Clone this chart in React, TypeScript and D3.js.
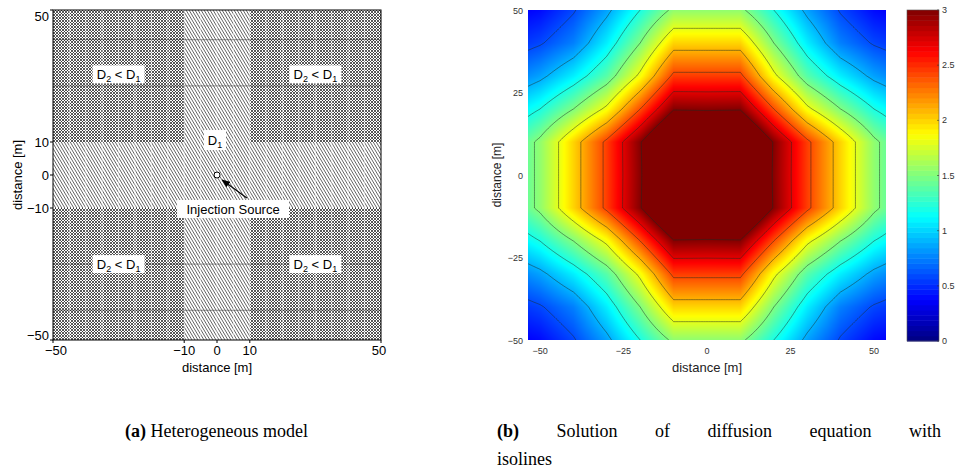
import React, { useMemo, useRef, useLayoutEffect, useState } from "react";
import * as d3 from "d3";

const W = 956;
const H = 474;
const SANS = "'Liberation Sans', Arial, Helvetica, sans-serif";
const SERIF = "'Liberation Serif', 'Times New Roman', serif";

// ---------- (a) heterogeneous model ----------
const modelTicks = [-50, -10, 0, 10, 50];
const armHalfWidth = 10;
const meshColumns = d3.range(-45, 50, 5);
const seamRows = [41, 27, -27, -41];
const regionLabels = [
  { x: -30, y: 30.5 },
  { x: 30, y: 30.5 },
  { x: -30, y: -27 },
  { x: 30, y: -27 },
];
const sourcePoint = { x: 0, y: 0 };
const d1Label = { x: -0.6, y: 10.6 };
const sourceLabel = { x: 4.9, y: -10.3 };
const arrowTail = { x: 9.1, y: -7.0 };
const arrowHead = { x: 1.6, y: -1.5 };

// ---------- (b) diffusion solution ----------
// Nodal values on one quadrant (|x|, |y| in metres); the field is mirrored.
const gridCoords = [0, 10, 20, 30, 40, 50, 60];
const solutionQuadrant = [
  [4.0, 3.6, 2.97, 2.45, 2.0, 1.55, 1.25],
  [3.6, 3.6, 2.98, 2.45, 2.0, 1.55, 1.25],
  [2.97, 2.98, 2.4, 1.85, 1.5, 1.2, 1.0],
  [2.45, 2.45, 1.85, 1.38, 1.08, 0.85, 0.7],
  [2.0, 2.0, 1.5, 1.08, 0.75, 0.58, 0.48],
  [1.55, 1.55, 1.2, 0.85, 0.58, 0.4, 0.33],
  [1.25, 1.25, 1.0, 0.7, 0.48, 0.33, 0.25],
];
const isoLevels = [0.3, 0.6, 0.9, 1.2, 1.5, 1.8, 2.1, 2.4, 2.7, 3.0];
const solXDomain = [-53.6, 53.6];
const solYDomain = [-50, 50];
const solTicks = [-50, -25, 0, 25, 50];
const colorDomain = [0, 3];
const colorbarTicks = [0, 0.5, 1, 1.5, 2, 2.5, 3];

// scales
const xL = d3.scaleLinear().domain([-50, 50]).range([53, 381]);
const yL = d3.scaleLinear().domain([-50, 50]).range([340, 10]);
const xR = d3.scaleLinear().domain(solXDomain).range([528, 886]);
const yR = d3.scaleLinear().domain(solYDomain).range([340, 10]);
const cbY = d3.scaleLinear().domain(colorDomain).range([341, 10]);
const cbX = [907, 939];

const fmt = (v: number) => (v < 0 ? "\u2212" + Math.abs(v) : String(v));

function jet(t: number): [number, number, number] {
  const c = (v: number) => Math.max(0, Math.min(1, v));
  const u = c(t);
  return [c(1.5 - Math.abs(4 * u - 3)), c(1.5 - Math.abs(4 * u - 2)), c(1.5 - Math.abs(4 * u - 1))];
}
const jetCss = (t: number) => {
  const [r, g, b] = jet(t);
  return d3.rgb(r * 255, g * 255, b * 255).formatHex();
};

function fieldAt(x: number, y: number) {
  const last = gridCoords.length - 1;
  const ax = Math.min(Math.abs(x), gridCoords[last]);
  const ay = Math.min(Math.abs(y), gridCoords[last]);
  const i = Math.min(d3.bisectRight(gridCoords, ax) - 1, last - 1);
  const j = Math.min(d3.bisectRight(gridCoords, ay) - 1, last - 1);
  const s = (ax - gridCoords[i]) / (gridCoords[i + 1] - gridCoords[i]);
  const t = (ay - gridCoords[j]) / (gridCoords[j + 1] - gridCoords[j]);
  const q = solutionQuadrant;
  return (
    q[j][i] * (1 - s) * (1 - t) +
    q[j][i + 1] * s * (1 - t) +
    q[j + 1][i] * (1 - s) * t +
    q[j + 1][i + 1] * s * t
  );
}

function JustifiedCaption({ x, y, width, bold, rest }: { x: number; y: number; width: number; bold: string; rest: string }) {
  const ref = useRef<SVGTextElement>(null);
  const [ws, setWs] = useState(0);
  useLayoutEffect(() => {
    if (!ref.current) return;
    const natural = ref.current.getComputedTextLength();
    const gaps = (bold + rest).split(" ").length - 1;
    if (gaps > 0) setWs((width - natural) / gaps);
  }, []);
  return (
    <text ref={ref} x={x} y={y} fontFamily={SERIF} fontSize={18} wordSpacing={ws} fill="#000">
      <tspan fontWeight="bold">{bold}</tspan>
      {rest}
    </text>
  );
}

function RegionLabel({ x, y }: { x: number; y: number }) {
  const cx = xL(x);
  const cy = yL(y);
  return (
    <g>
      <rect x={cx - 26} y={cy - 9} width={52} height={18} fill="#fff" />
      <text x={cx} y={cy + 5} textAnchor="middle" fontFamily={SANS} fontSize={13}>
        D<tspan fontSize={9} dy={3}>2</tspan>
        <tspan dy={-3}> &lt; D</tspan>
        <tspan fontSize={9} dy={3}>1</tspan>
      </text>
    </g>
  );
}

export default function App() {
  const [px0, px1] = xR.range();
  const [py1, py0] = yR.range();

  const raster = useMemo(() => {
    const w = Math.round(px1 - px0);
    const h = Math.round(py1 - py0);
    const canvas = document.createElement("canvas");
    canvas.width = w;
    canvas.height = h;
    const ctx = canvas.getContext("2d");
    if (!ctx) return "";
    const img = ctx.createImageData(w, h);
    for (let r = 0; r < h; r++) {
      const yv = yR.invert(py0 + r + 0.5);
      for (let c = 0; c < w; c++) {
        const xv = xR.invert(px0 + c + 0.5);
        const v = fieldAt(xv, yv);
        const [rr, gg, bb] = jet((v - colorDomain[0]) / (colorDomain[1] - colorDomain[0]));
        const k = (r * w + c) * 4;
        img.data[k] = rr * 255;
        img.data[k + 1] = gg * 255;
        img.data[k + 2] = bb * 255;
        img.data[k + 3] = 255;
      }
    }
    ctx.putImageData(img, 0, 0);
    return canvas.toDataURL();
  }, []);

  const isoPaths = useMemo(() => {
    const step = 0.5;
    const ext = gridCoords[gridCoords.length - 1];
    const n = Math.round((2 * ext) / step) + 1;
    const values = new Array(n * n);
    for (let j = 0; j < n; j++) {
      for (let i = 0; i < n; i++) {
        values[j * n + i] = fieldAt(-ext + i * step, ext - j * step);
      }
    }
    const contours = d3.contours().size([n, n]).thresholds(isoLevels)(values);
    const proj = d3.geoTransform({
      point(x: number, y: number) {
        this.stream.point(xR(-ext + (x - 0.5) * step), yR(ext - (y - 0.5) * step));
      },
    });
    const path = d3.geoPath(proj);
    return contours.map((c) => path(c as any) || "");
  }, []);

  const bands = d3.range(64);

  return (
    <svg width={W} height={H} style={{ position: "absolute", left: 0, top: 0, background: "#fff" }}>
      <defs>
        <pattern id="hatchD1" width={3} height={5} patternUnits="userSpaceOnUse">
          <rect width={3} height={5} fill="#fff" />
          <path d="M0,0 L3,5 M-3,0 L0,5 M3,0 L6,5" stroke="#3c3c3c" strokeWidth={0.8} />
        </pattern>
        <pattern id="meshD2" width={3} height={3} patternUnits="userSpaceOnUse">
          <rect width={3} height={3} fill="#fff" />
          <path d="M0,0 L3,3 M3,0 L0,3" stroke="#2e2e2e" strokeWidth={0.8} />
        </pattern>
        <clipPath id="modelClip">
          <rect x={xL(-50)} y={yL(50)} width={xL(50) - xL(-50)} height={yL(-50) - yL(50)} />
        </clipPath>
        <clipPath id="solClip">
          <rect x={px0} y={py0} width={px1 - px0} height={py1 - py0} />
        </clipPath>
        <marker id="arrowHead" viewBox="0 0 10 10" refX={9} refY={5} markerWidth={7} markerHeight={7} orient="auto-start-reverse">
          <path d="M0,1 L10,5 L0,9 z" fill="#000" />
        </marker>
      </defs>

      {/* ---------------- (a) ---------------- */}
      <g clipPath="url(#modelClip)">
        <rect x={xL(-50)} y={yL(50)} width={xL(50) - xL(-50)} height={yL(-50) - yL(50)} fill="url(#meshD2)" />
        <rect x={xL(-armHalfWidth)} y={yL(50)} width={xL(armHalfWidth) - xL(-armHalfWidth)} height={yL(-50) - yL(50)} fill="url(#hatchD1)" />
        <rect x={xL(-50)} y={yL(armHalfWidth)} width={xL(50) - xL(-50)} height={yL(-armHalfWidth) - yL(armHalfWidth)} fill="url(#hatchD1)" />
        {meshColumns.map((c) => (
          <line key={"mc" + c} x1={xL(c)} x2={xL(c)} y1={yL(50)} y2={yL(-50)} stroke="#fff" strokeWidth={1} opacity={0.55} />
        ))}
        {seamRows.map((r) => (
          <line key={"sr" + r} x1={xL(-50)} x2={xL(50)} y1={yL(r)} y2={yL(r)} stroke="#222" strokeWidth={1} opacity={0.45} />
        ))}
      </g>
      <rect x={xL(-50)} y={yL(50)} width={xL(50) - xL(-50)} height={yL(-50) - yL(50)} fill="none" stroke="#000" strokeWidth={1} />

      {regionLabels.map((p, k) => (
        <RegionLabel key={k} x={p.x} y={p.y} />
      ))}
      <rect x={xL(d1Label.x) - 11} y={yL(d1Label.y) - 10} width={22} height={20} fill="#fff" />
      <text x={xL(d1Label.x)} y={yL(d1Label.y) + 5} textAnchor="middle" fontFamily={SANS} fontSize={13}>
        D<tspan fontSize={9} dy={3}>1</tspan>
      </text>
      <line
        x1={xL(arrowTail.x)}
        y1={yL(arrowTail.y)}
        x2={xL(arrowHead.x)}
        y2={yL(arrowHead.y)}
        stroke="#000"
        strokeWidth={1.2}
        markerEnd="url(#arrowHead)"
      />
      <circle cx={xL(sourcePoint.x)} cy={yL(sourcePoint.y)} r={3} fill="#fff" stroke="#000" strokeWidth={1} />
      <rect x={xL(sourceLabel.x) - 56} y={yL(sourceLabel.y) - 9} width={112} height={18} fill="#fff" />
      <text x={xL(sourceLabel.x)} y={yL(sourceLabel.y) + 5} textAnchor="middle" fontFamily={SANS} fontSize={13}>
        Injection Source
      </text>

      {modelTicks.map((t, k) => (
        <g key={"xt" + t}>
          <line x1={xL(t)} x2={xL(t)} y1={yL(-50)} y2={yL(-50) + 3} stroke="#000" />
          <text
            x={xL(t) + (k === 0 ? 3 : k === modelTicks.length - 1 ? -2 : 0)}
            y={yL(-50) + 15}
            textAnchor="middle"
            fontFamily={SANS}
            fontSize={13}
          >
            {fmt(t)}
          </text>
        </g>
      ))}
      {modelTicks.map((t, k) => (
        <g key={"yt" + t}>
          <line x1={xL(-50) - 3} x2={xL(-50)} y1={yL(t)} y2={yL(t)} stroke="#000" />
          <text
            x={xL(-50) - 4}
            y={yL(t) + 5 + (k === 0 ? -5 : k === modelTicks.length - 1 ? 6 : 0)}
            textAnchor="end"
            fontFamily={SANS}
            fontSize={13}
          >
            {fmt(t)}
          </text>
        </g>
      ))}
      <text x={xL(0)} y={372} textAnchor="middle" fontFamily={SANS} fontSize={13}>
        distance [m]
      </text>
      <text transform={`translate(22,${yL(0)}) rotate(-90)`} textAnchor="middle" fontFamily={SANS} fontSize={13}>
        distance [m]
      </text>

      {/* ---------------- (b) ---------------- */}
      <image href={raster} x={px0} y={py0} width={px1 - px0} height={py1 - py0} preserveAspectRatio="none" />
      <g clipPath="url(#solClip)">
        {isoPaths.map((d, k) => (
          <path key={"iso" + k} d={d} fill="none" stroke="#1e2a22" strokeOpacity={0.55} strokeWidth={0.9} />
        ))}
      </g>
      {solTicks.map((t) => (
        <text key={"sx" + t} x={xR(t)} y={354} textAnchor="middle" fontFamily={SANS} fontSize={9} fill="#333">
          {fmt(t)}
        </text>
      ))}
      {solTicks.map((t) => (
        <text key={"sy" + t} x={523} y={yR(t) + 3.5} textAnchor="end" fontFamily={SANS} fontSize={9} fill="#333">
          {fmt(t)}
        </text>
      ))}
      <text x={xR(0)} y={372} textAnchor="middle" fontFamily={SANS} fontSize={13} fill="#222">
        distance [m]
      </text>
      <text transform={`translate(501,${yR(0)}) rotate(-90)`} textAnchor="middle" fontFamily={SANS} fontSize={12} fill="#222">
        distance [m]
      </text>

      {/* colorbar */}
      {bands.map((b) => {
        const v0 = colorDomain[0] + ((colorDomain[1] - colorDomain[0]) * b) / bands.length;
        const v1 = colorDomain[0] + ((colorDomain[1] - colorDomain[0]) * (b + 1)) / bands.length;
        return (
          <rect
            key={"cb" + b}
            x={cbX[0]}
            y={cbY(v1)}
            width={cbX[1] - cbX[0]}
            height={cbY(v0) - cbY(v1) + 0.5}
            fill={jetCss((b + 0.5) / bands.length)}
          />
        );
      })}
      <rect x={cbX[0]} y={cbY(3)} width={cbX[1] - cbX[0]} height={cbY(0) - cbY(3)} fill="none" stroke="#555" strokeWidth={0.6} />
      {colorbarTicks.map((t) => (
        <g key={"ct" + t}>
          <line x1={cbX[1] - 2} x2={cbX[1]} y1={cbY(t)} y2={cbY(t)} stroke="#333" strokeWidth={0.6} />
          <text x={cbX[1] + 3} y={cbY(t) + 3} fontFamily={SANS} fontSize={9} fill="#333">
            {t}
          </text>
        </g>
      ))}

      {/* captions */}
      <text x={125} y={437} fontFamily={SERIF} fontSize={18}>
        <tspan fontWeight="bold">(a)</tspan> Heterogeneous model
      </text>
      <JustifiedCaption x={497} y={437} width={444} bold="(b)" rest=" Solution of diffusion equation with" />
      <text x={497} y={465} fontFamily={SERIF} fontSize={18}>
        isolines
      </text>
    </svg>
  );
}
